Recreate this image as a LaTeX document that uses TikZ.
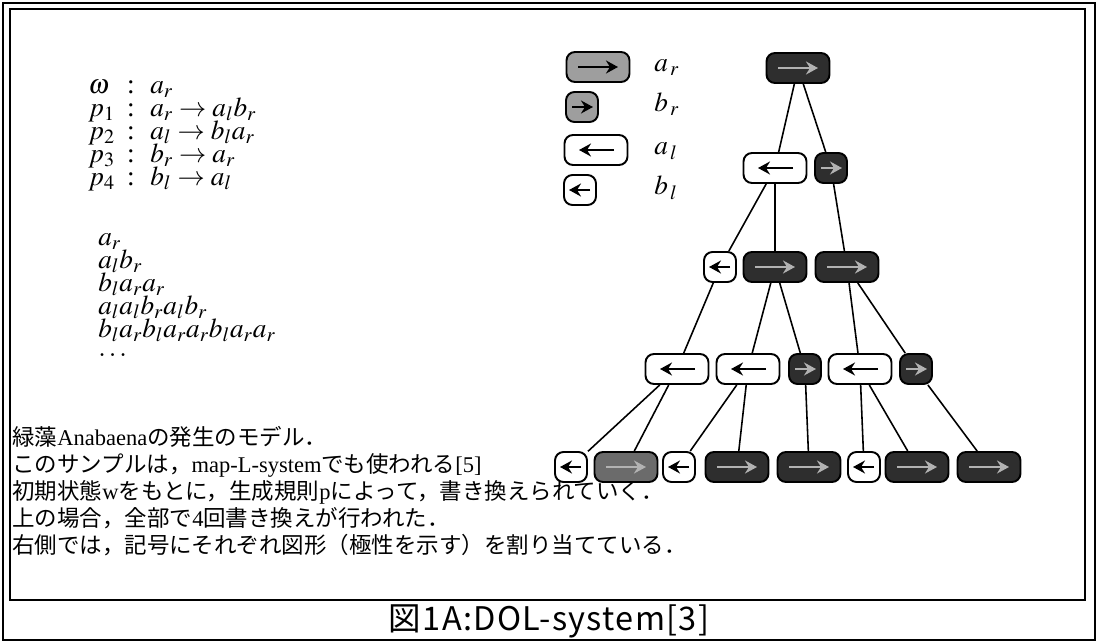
\documentclass[tikz,border=0pt]{standalone}
\usepackage{mathptmx}
\usepackage{fontspec}
\setmainfont{Liberation Serif}
\newfontfamily\jpfont{Noto Sans CJK JP}
\newfontfamily\capfont[LetterSpace=4]{Noto Sans CJK JP}
\usetikzlibrary{positioning,arrows.meta}
\colorlet{darkcell}{black!82}
\colorlet{midcell}{black!58}
\colorlet{keycell}{black!38}
\colorlet{glint}{black!30}
\newcommand{\rmtxt}[1]{{\rmfamily #1}}

\begin{document}
\begin{tikzpicture}[
    x=0.02cm, y=-0.02cm,
    frame/.style={draw, line width=1.1pt},
    cell/.style={draw, line width=1.1pt, rounded corners=0.17cm, minimum height=0.6cm, inner sep=0pt},
    wide/.style={cell, minimum width=1.26cm},
    narrow/.style={cell, minimum width=0.64cm},
    tip/.style={-{Stealth[length=2.4mm, width=2.6mm, inset=0.8mm]}, line width=1.5pt},
    ar/.style={wide, fill=darkcell, path picture={\draw[tip, draw=glint] ([xshift=-0.4cm]path picture bounding box.center) -- ([xshift=0.4cm]path picture bounding box.center);}},
    br/.style={narrow, fill=darkcell, path picture={\draw[tip, draw=glint] ([xshift=-0.2cm]path picture bounding box.center) -- ([xshift=0.22cm]path picture bounding box.center);}},
    al/.style={wide, fill=white, path picture={\draw[tip] ([xshift=0.36cm]path picture bounding box.center) -- ([xshift=-0.34cm]path picture bounding box.center);}},
    bl/.style={narrow, fill=white, path picture={\draw[tip] ([xshift=0.2cm]path picture bounding box.center) -- ([xshift=-0.22cm]path picture bounding box.center);}},
    keyar/.style={ar, fill=keycell, path picture={\draw[tip] ([xshift=-0.4cm]path picture bounding box.center) -- ([xshift=0.4cm]path picture bounding box.center);}},
    keybr/.style={br, fill=keycell, path picture={\draw[tip] ([xshift=-0.2cm]path picture bounding box.center) -- ([xshift=0.22cm]path picture bounding box.center);}},
    branch/.style={draw, line width=0.9pt},
    formula/.style={font=\fontsize{15.5}{18}\selectfont, inner sep=0pt, text height=0.3cm, text depth=0.11cm},
    note/.style={font=\jpfont\fontsize{12.8}{15}\selectfont, inner sep=0pt, anchor=base west, text height=0.36cm, text depth=0.1cm},
]
\useasboundingbox (0,0) rectangle (1099,642);

% frames
\draw[frame] (3,3) rectangle (1095,640);
\draw[frame] (10,9) rectangle (1085,600);

% production rules
\foreach \lhs/\rhs [count=\i from 0] in {\omega/a_r, p_1/a_r \to a_l b_r, p_2/a_l \to b_l a_r, p_3/b_r \to a_r, p_4/b_l \to a_l} {
    \node[formula, anchor=base west] (lhs\i) at (88, {93+23*\i}) {$\lhs$};
    \node[formula, anchor=base] (colon\i) at (131, {93+23*\i}) {:};
    \node[formula, anchor=base west] (rhs\i) at (150, {93+23*\i}) {$\rhs$};
}

% derivation
\foreach \word [count=\i from 0] in {a_r, a_l b_r, b_l a_r a_r, a_l a_l b_r a_l b_r, b_l a_r b_l a_r a_r b_l a_r a_r} {
    \node[formula, anchor=base west] (step\i) at (98, {245+23*\i}) {$\word$};
}
\node[formula, anchor=base west, text height=0.08cm, text depth=0pt] (step5) at (98,356) {$\ldots$};

% legend
\node[keyar] (key_ar) at (598,67) {};
\node[keybr] (key_br) at (582,107) {};
\node[al] (key_al) at (596,150) {};
\node[bl] (key_bl) at (580,190) {};
\foreach \k/\t in {ar/a_{\,r}, br/b_{\,r}, al/a_{\,l}, bl/b_{\,l}}
    \node[formula, anchor=west] (lbl_\k) at (key_\k.center -| 654,0) {$\t$};

% cell lineage
\node[ar] (n0) at (798,68) {};

\node[al] (n1a) at (775,168) {};
\node[br] (n1b) at (831,168) {};

\node[bl] (n2a) at (720,267) {};
\node[ar] (n2b) at (775,267) {};
\node[ar] (n2c) at (847,267) {};

\node[al] (n3a) at (677,369) {};
\node[al] (n3b) at (748,369) {};
\node[br] (n3c) at (805,369) {};
\node[al] (n3d) at (860,369) {};
\node[br] (n3e) at (916,369) {};

\node[bl] (n4a) at (571,467) {};
\node[ar, fill=midcell] (n4b) at (626,467) {};
\node[bl] (n4c) at (679,467) {};
\node[ar] (n4d) at (737,467) {};
\node[ar] (n4e) at (809,467) {};
\node[bl] (n4f) at (864,467) {};
\node[ar] (n4g) at (917,467) {};
\node[ar] (n4h) at (989,467) {};

\foreach \p/\c in {n0/n1a, n0/n1b, n1a/n2a, n1a/n2b, n1b/n2c, n2a/n3a, n2b/n3b, n2b/n3c, n2c/n3d, n2c/n3e,
                   n3a/n4a, n3a/n4b, n3b/n4c, n3b/n4d, n3c/n4e, n3d/n4f, n3d/n4g, n3e/n4h}
    \draw[branch] (\p) -- (\c);

% notes
\node[note] (line1) at (12,445) {緑藻\rmtxt{Anabaena}の発生のモデル．};
\node[note] (line2) at (12,472) {このサンプルは，\rmtxt{map-L-system}でも使われる\rmtxt{[5]}};
\node[note] (line3) at (12,499) {初期状態\rmtxt{w}をもとに，生成規則\rmtxt{p}によって，書き換えられていく．};
\node[note] (line4) at (12,526) {上の場合，全部で\rmtxt{4}回書き換えが行われた．};
\node[note] (line5) at (12,553) {右側では，記号にそれぞれ図形（極性を示す）を割り当てている．};

% caption
\node[font=\capfont\fontsize{18.5}{20}\selectfont, inner sep=0pt] (caption) at (549,621) {図1A:DOL-system[3]};

\end{tikzpicture}
\end{document}
